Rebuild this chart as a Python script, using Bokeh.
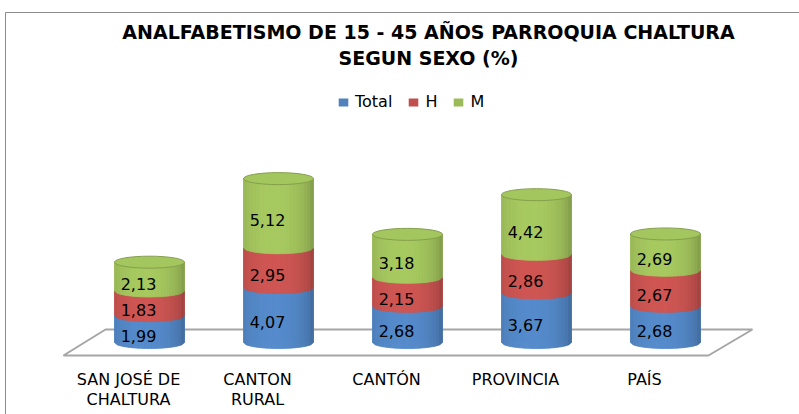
import numpy as np
from bokeh.plotting import figure
from bokeh.models import Range1d, Legend, LegendItem
from bokeh.core.properties import value
from bokeh.embed import file_html
from bokeh.resources import INLINE

# ---------------- data ----------------
categories = ["SAN JOSÉ DE\nCHALTURA", "CANTON\nRURAL", "CANTÓN", "PROVINCIA", "PAÍS"]
series_names = ["Total", "H", "M"]
total = [1.99, 4.07, 2.68, 3.67, 2.68]
hombres = [1.83, 2.95, 2.15, 2.86, 2.67]
mujeres = [2.13, 5.12, 3.18, 4.42, 2.69]
title_lines = ["ANALFABETISMO DE 15 - 45 AÑOS PARROQUIA CHALTURA", "SEGUN SEXO (%)"]

# ---------------- styles / layout ----------------
colors = [(79, 129, 189), (192, 80, 77), (155, 187, 89)]
W, H = 799, 414
PAGE = 0
PX_X = 129.0          # pixels per category
PX_Y = 13.5           # pixels per unit value
ORIGIN_SX = 149       # figure px of first category centre
ORIGIN_SY = 342       # figure px (from top) of value 0
RAD_PX = 35           # cylinder half-width
ELL_PX = 6            # ellipse half-height
N_STRIPS = 24

def fx(sx):  # page px -> data x
    return (sx - PAGE - ORIGIN_SX) / PX_X

def fy(sy):  # page px -> data y
    return (ORIGIN_SY - (sy - PAGE)) / PX_Y

def hexc(rgb, f=1.0):
    r, g, b = [int(max(0, min(255, round(c * f)))) for c in rgb]
    return "#%02x%02x%02x" % (r, g, b)

def shade(u):
    t = (u + 0.15) / 1.15
    return 0.78 + 0.30 * np.sqrt(max(0.0, 1 - t * t))

p = figure(width=W, height=H,
           x_range=Range1d(-ORIGIN_SX / PX_X, (W - ORIGIN_SX) / PX_X),
           y_range=Range1d(-(H - ORIGIN_SY) / PX_Y, ORIGIN_SY / PX_Y),
           x_axis_type=None, y_axis_type=None,
           output_backend="svg", toolbar_location=None, min_border=0)
p.grid.visible = False
p.outline_line_color = None
p.background_fill_color = "white"
p.border_fill_color = "white"

# outer chart border (top and left)
p.segment(x0=[fx(5), fx(5)], y0=[fy(12), fy(12)], x1=[fx(810), fx(5)], y1=[fy(12), fy(430)],
          line_color="#8c8c8c", line_width=1)

n = len(categories)
xi = np.arange(n, dtype=float)

# floor
floor_x = [-0.667, -0.341, (n - 1) + 0.674, (n - 1) + 0.333]
floor_y = [fy(355), fy(329), fy(329), fy(355)]
p.patch(floor_x, floor_y, fill_color="white", line_color="#a6a6a6", line_width=2)

vals = np.array([total, hombres, mujeres])
tops = np.cumsum(vals, axis=0)
bottoms = tops - vals
A = RAD_PX / PX_X
B = ELL_PX / PX_Y

# flat base bars (used for legend)
base_renderers = []
for j in range(3):
    r = p.vbar(x=xi, bottom=bottoms[j], top=tops[j], width=2 * A,
               fill_color=hexc(colors[j]), line_color=None)
    base_renderers.append(r)

# shaded cylinder strips
xs, ys, cs = [], [], []
for j in range(3):
    for i in range(n):
        bot, top = bottoms[j][i], tops[j][i]
        for k in range(N_STRIPS):
            ua = -1 + 2 * k / N_STRIPS
            ub = -1 + 2 * (k + 1) / N_STRIPS
            sa, sb = np.sqrt(max(0, 1 - ua * ua)), np.sqrt(max(0, 1 - ub * ub))
            xs.append([xi[i] + A * ua, xi[i] + A * ub, xi[i] + A * ub, xi[i] + A * ua])
            ys.append([bot - B * sa, bot - B * sb, top - B * sb, top - B * sa])
            cs.append(hexc(colors[j], shade((ua + ub) / 2)))
p.patches(xs, ys, fill_color=cs, line_color=cs, line_width=0.8)

# top faces
p.ellipse(x=xi, y=tops[-1], width=2 * A, height=2 * B,
          fill_color=hexc(colors[2], 1.06), line_color=hexc(colors[2], 0.85), line_width=1)

# value labels
lab_x, lab_y, lab_t = [], [], []
for j in range(3):
    for i in range(n):
        lab_x.append(xi[i])
        lab_y.append((bottoms[j][i] + tops[j][i]) / 2)
        lab_t.append(("%.2f" % vals[j][i]).replace(".", ","))
p.text(x=lab_x, y=lab_y, text=lab_t, x_offset=-11, y_offset=7,
       text_align="center", text_baseline="middle",
       text_font=value("DejaVu Sans"), text_font_size="16px", text_color="black")

# category labels
cx, cy, ct = [], [], []
for i, c in enumerate(categories):
    for k, line in enumerate(c.split("\n")):
        cx.append(xi[i])
        cy.append(fy(379 + 20 * k))
        ct.append(line)
p.text(x=cx, y=cy, text=ct, x_offset=-21, text_align="center", text_baseline="middle",
       text_font=value("DejaVu Sans"), text_font_size="16px", text_color="black")

# title
p.text(x=[fx(428)] * 2, y=[fy(31), fy(57)], text=title_lines,
       text_align="center", text_baseline="middle",
       text_font=value("DejaVu Sans"), text_font_style="bold",
       text_font_size="19px", text_color="black")

# legend
legend = Legend(items=[LegendItem(label=s, renderers=[r]) for s, r in zip(series_names, base_renderers)],
                location=(337, 303), orientation="horizontal",
                border_line_color=None, background_fill_alpha=0,
                padding=0, margin=0, spacing=15, label_standoff=6,
                glyph_width=12, glyph_height=10, label_height=10, label_width=0,
                label_text_font="DejaVu Sans", label_text_font_size="16px",
                label_text_color="black")
p.add_layout(legend)

open("out.html", "w").write(file_html(p, INLINE))
